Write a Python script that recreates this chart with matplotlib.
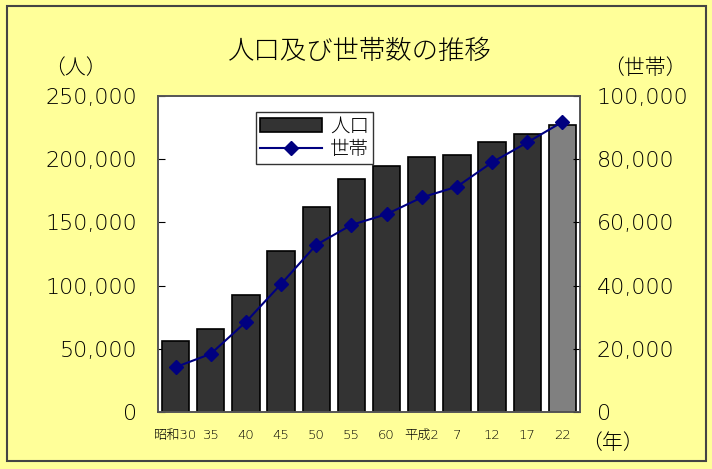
import matplotlib
matplotlib.use("Agg")
from matplotlib import pyplot as plt
from matplotlib.patches import Rectangle
from matplotlib.ticker import FuncFormatter
import numpy as np

plt.rcParams['font.family'] = ['DejaVu Sans', 'Noto Sans CJK JP']
plt.rcParams['font.weight'] = 'light'

years = ["昭和30", "35", "40", "45", "50", "55", "60", "平成2", "7", "12", "17", "22"]
population = [56000, 66000, 92500, 127000, 162000, 184000, 194500, 202000, 203000, 213500, 220000, 227000]
households = [14200, 18400, 28500, 40500, 52900, 59200, 62600, 67900, 71300, 79000, 85300, 91800]

jp = ['Noto Sans CJK JP', 'DejaVu Sans']

fig = plt.figure(figsize=(7.12, 4.69), dpi=100, facecolor="#FFFF99")
ax = fig.add_axes([158 / 712, 1 - 412 / 469, 422 / 712, 316 / 469])
ax.set_facecolor("white")

x = np.arange(len(years))
colors = ["#333333"] * (len(years) - 1) + ["#808080"]
bars = ax.bar(x, population, width=0.78, color=colors, edgecolor="black", linewidth=1.2,
              label="人口", zorder=2)
ax.set_xlim(-0.5, len(years) - 0.5)
ax.set_ylim(0, 250000)
ax.set_yticks(np.arange(0, 250001, 50000))
ax.yaxis.set_major_formatter(FuncFormatter(lambda v, p: f"{int(v):,}"))
ax.set_xticks(x)
ax.set_xticklabels(years, fontsize=9.5)
ax.set_xticks(np.arange(-0.5, len(years), 1), minor=True)
ax.tick_params(axis="x", which="major", length=0, pad=12)
ax.tick_params(axis="x", which="minor", length=4, direction="in", color="white")
ax.tick_params(axis="y", direction="in", length=5, labelsize=16, pad=15)

ax2 = ax.twinx()
line, = ax2.plot(x, households, color="#000080", marker="D", markersize=7,
                 linewidth=1.5, label="世帯", zorder=3)
ax2.set_ylim(0, 100000)
ax2.set_yticks(np.arange(0, 100001, 20000))
ax2.yaxis.set_major_formatter(FuncFormatter(lambda v, p: f"{int(v):,}"))
ax2.tick_params(axis="y", direction="in", length=5, labelsize=16, pad=12)

for a in (ax, ax2):
    for s in a.spines.values():
        s.set_color("#555555")
        s.set_linewidth(1.2)

leg = ax.legend([bars, line], ["人口", "世帯"], loc="upper left",
                bbox_to_anchor=(0.21, 0.98), frameon=True,
                prop={"family": jp, "size": 14},
                fancybox=False, edgecolor="black", borderpad=0.2,
                handlelength=3.2, handletextpad=0.4, labelspacing=0.1)
leg.get_frame().set_linewidth(1.0)
leg.set_zorder(5)

fig.text(360 / 712, 1 - 51 / 469, "人口及び世帯数の推移", fontsize=19,
         family=jp, ha="center", va="center")
fig.text(75 / 712, 1 - 68 / 469, "（人）", fontsize=15, family=jp,
         ha="center", va="center")
fig.text(645 / 712, 1 - 68 / 469, "（世帯）", fontsize=15, family=jp,
         ha="center", va="center")
fig.text(612 / 712, 1 - 443 / 469, "（年）", fontsize=15, family=jp,
         ha="center", va="center")

fig.patches.append(Rectangle((7 / 712, 1 - 461 / 469), 699 / 712, 455 / 469,
                             transform=fig.transFigure, fill=False,
                             edgecolor="#444444", linewidth=1.5))

fig.savefig("out.png", dpi=100, facecolor=fig.get_facecolor())
